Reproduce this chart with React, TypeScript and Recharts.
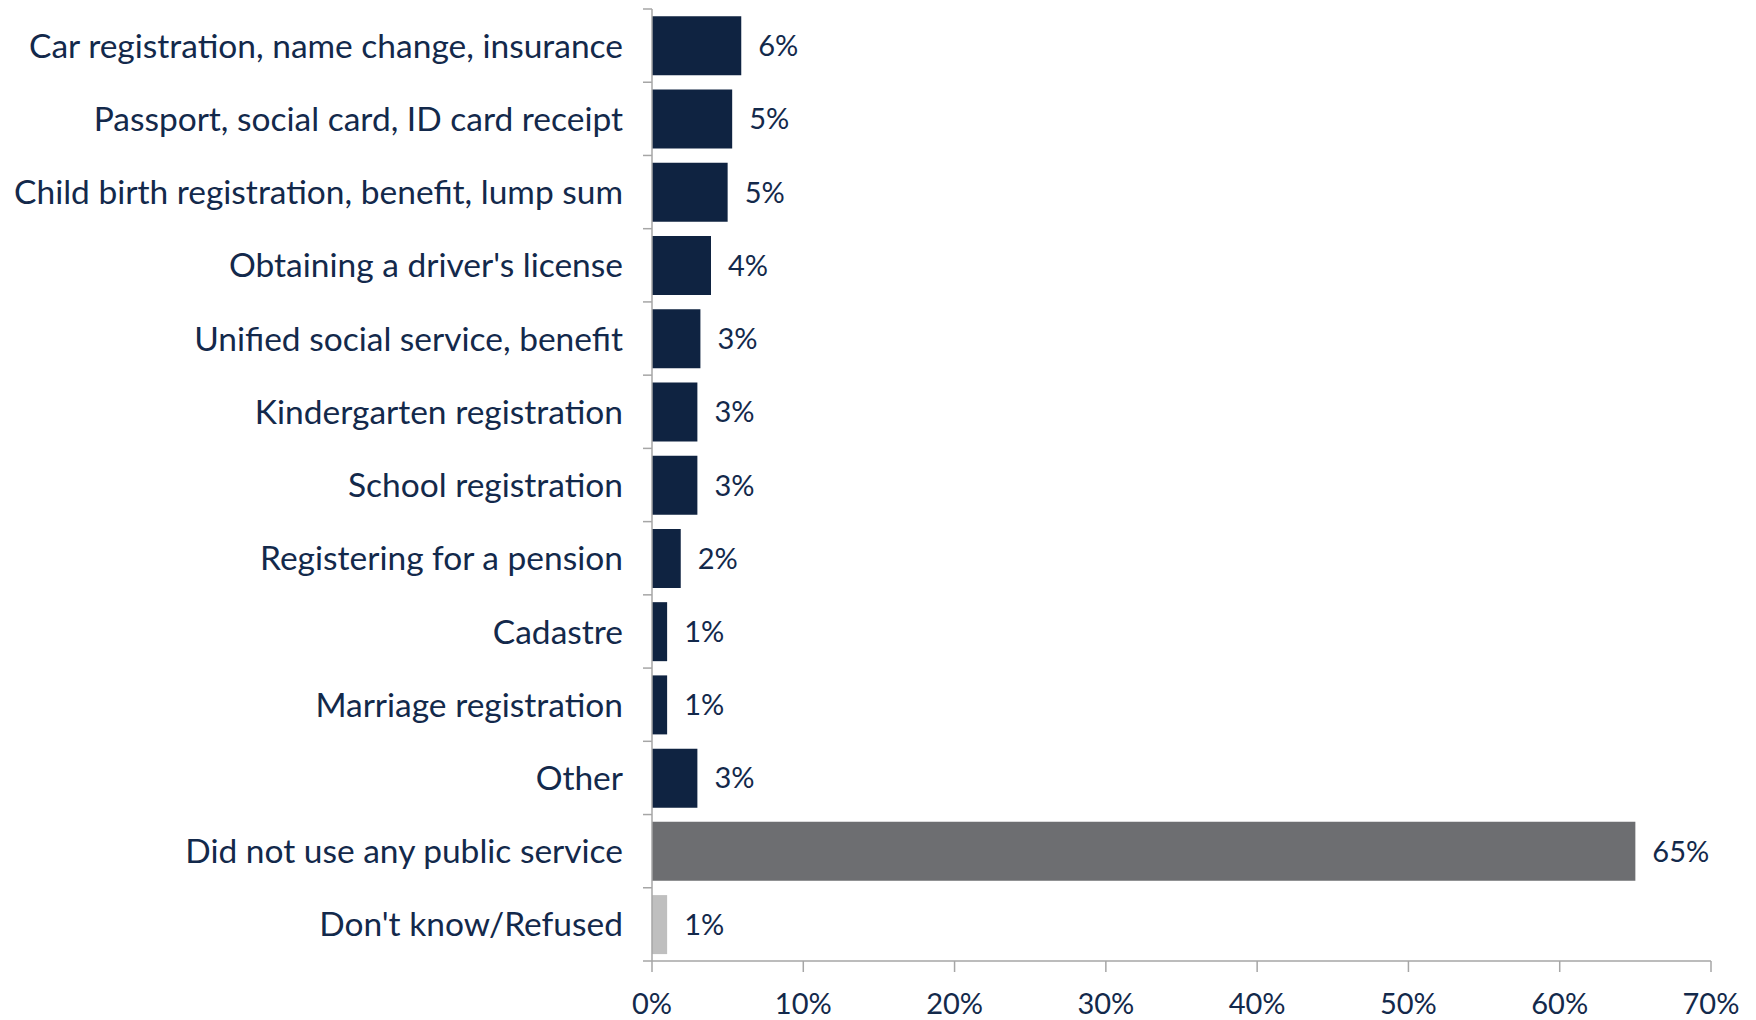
import React from 'react';
import { BarChart, Bar, XAxis, YAxis, Cell, LabelList } from 'recharts';

const categories = [
    'Car registration, name change, insurance',
    'Passport, social card, ID card receipt',
    'Child birth registration, benefit, lump sum',
    "Obtaining a driver's license",
    'Unified social service, benefit',
    'Kindergarten registration',
    'School registration',
    'Registering for a pension',
    'Cadastre',
    'Marriage registration',
    'Other',
    'Did not use any public service',
    "Don't know/Refused",
];

const shares = [5.9, 5.3, 5.0, 3.9, 3.2, 3.0, 3.0, 1.9, 1.0, 1.0, 3.0, 65.0, 1.0];

const barColors = [
    '#0f2341', '#0f2341', '#0f2341', '#0f2341', '#0f2341', '#0f2341',
    '#0f2341', '#0f2341', '#0f2341', '#0f2341', '#0f2341', '#6d6e71', '#bfbfbf',
];

const xTicks = [0, 10, 20, 30, 40, 50, 60, 70];

const data = categories.map((name, i) => ({ name, value: shares[i] }));

const WIDTH = 1756;
const HEIGHT = 1020;
const TOP = 9;
const X_AXIS_H = 59;
const Y_AXIS_W = 652;
const BAND = (HEIGHT - TOP - X_AXIS_H) / categories.length;
const TEXT = '#13294b';
const AXIS = '#a6a6a6';
const FONT = 'Lato, sans-serif';

// category label plus Excel-style tick marks at the band edges
const CategoryTick = (props: any) => {
    const { x, y, payload, index } = props;
    const last = index === categories.length - 1;
    return (
        <g>
            <line x1={x - 9} x2={x} y1={y - BAND / 2} y2={y - BAND / 2} stroke={AXIS} strokeWidth={1.5} />
            {last && <line x1={x - 9} x2={x} y1={y + BAND / 2} y2={y + BAND / 2} stroke={AXIS} strokeWidth={1.5} />}
            <text x={x - 29} y={y} dy="0.36em" textAnchor="end" fill={TEXT} fontSize={33.5} fontFamily={FONT}>
                {payload.value}
            </text>
        </g>
    );
};

export default function App() {
    return (
        <div style={{ position: 'absolute', left: 0, top: 0, background: '#fff' }}>
            <BarChart
                width={WIDTH}
                height={HEIGHT}
                data={data}
                layout="vertical"
                margin={{ top: TOP, right: 45, left: 0, bottom: 0 }}
                barCategoryGap="10%"
            >
                <XAxis
                    type="number"
                    domain={[0, 70]}
                    ticks={xTicks}
                    height={X_AXIS_H}
                    tickFormatter={(v) => `${v}%`}
                    stroke={AXIS}
                    axisLine={{ stroke: AXIS, strokeWidth: 1.5 }}
                    tickLine={{ stroke: AXIS, strokeWidth: 1.5 }}
                    tickSize={11}
                    tickMargin={21}
                    tick={{ fill: TEXT, fontSize: 29, fontFamily: FONT }}
                />
                <YAxis
                    type="category"
                    dataKey="name"
                    width={Y_AXIS_W}
                    axisLine={{ stroke: AXIS, strokeWidth: 1.5 }}
                    tickLine={false}
                    tickSize={0}
                    tickMargin={0}
                    interval={0}
                    tick={<CategoryTick />}
                />
                <Bar dataKey="value" isAnimationActive={false}>
                    {data.map((d, i) => (
                        <Cell key={d.name} fill={barColors[i]} />
                    ))}
                    <LabelList
                        dataKey="value"
                        position="right"
                        offset={17}
                        formatter={(v: any) => `${Math.round(Number(v))}%`}
                        style={{ fill: TEXT, fontSize: 29, fontFamily: FONT }}
                    />
                </Bar>
            </BarChart>
        </div>
    );
}
